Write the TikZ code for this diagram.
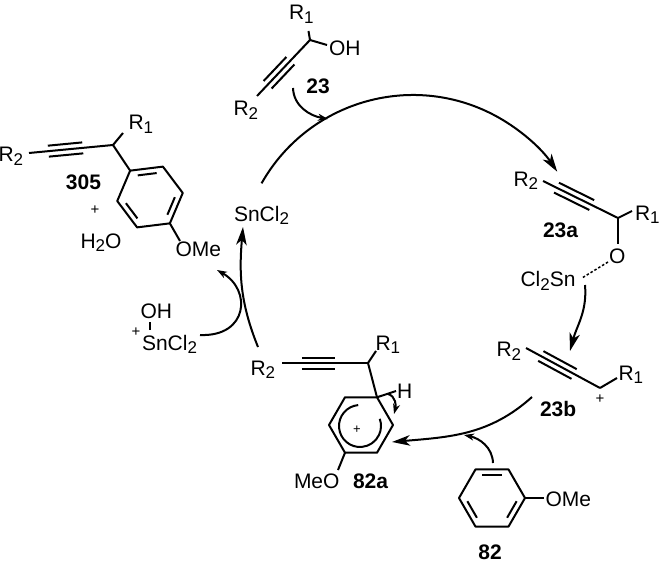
\documentclass[tikz,border=0pt]{standalone}
\usepackage{fontspec}
\setmainfont{Liberation Sans}
\usetikzlibrary{arrows.meta,calc}
\newcommand\chsub[1]{\raisebox{-3.5pt}{\fontsize{17}{18}\selectfont #1}}
\newcommand\mytriple[4]{%
  \draw[bond] (#1) -- (#2);
  \draw[bond] ($(#1)!#3!(#2)!5.5pt!90:(#2)$) -- ($(#1)!#4!(#2)!5.5pt!-90:(#1)$);
  \draw[bond] ($(#1)!#3!(#2)!5.5pt!-90:(#2)$) -- ($(#1)!#4!(#2)!5.5pt!90:(#1)$);
}
\newcommand\hexring[4]{%
  \foreach \k in {0,...,5}{%
    \coordinate (#1\k) at ($(#2)+({#3+60*\k}:#4)$);
    \coordinate (#1i\k) at ($(#2)+({#3+60*\k}:{#4-6.5})$);
  }
  \draw[bond] (#10)--(#11)--(#12)--(#13)--(#14)--(#15)--cycle;
}
\newcommand\ringdb[3]{\draw[bond] ($(#1i#2)!0.14!(#1i#3)$) -- ($(#1i#2)!0.86!(#1i#3)$);}
\begin{document}
\begin{tikzpicture}[x=1pt,y=1pt,
  bond/.style={line width=2pt, line join=round},
  txt/.style={inner sep=0pt, outer sep=0pt, font=\fontsize{21}{24}\selectfont},
  lab/.style={inner sep=0pt, outer sep=0pt, font=\fontsize{21}{24}\selectfont\bfseries},
  plus/.style={inner sep=0pt, outer sep=0pt, font=\fontsize{15}{16}\selectfont},
  chbig/.tip={Stealth[length=18pt,width=10.5pt,inset=5pt]},
  chsmall/.tip={Stealth[length=10pt,width=7pt,inset=3pt]}]
\useasboundingbox (0,0) rectangle (661,-564);
\fill[white] (0,0) rectangle (661,-564);

% ---------- 305 ----------
\coordinate (c305) at (150,-197);
\hexring{ra}{c305}{7}{33}
\ringdb{ra}{1}{2}
\ringdb{ra}{0}{5}
\ringdb{ra}{3}{4}
\coordinate (ch305) at (113,-145);
\coordinate (r2ab) at (29,-153);
\coordinate (r1ab) at (123,-133);
\coordinate (ome1b) at (180,-241);
\mytriple{r2ab}{ch305}{0.23}{0.64}
\draw[bond] (ch305) -- (r1ab);
\draw[bond] (ch305) -- (ra2);
\draw[bond] (ra5) -- (ome1b);
\node[txt,anchor=base west] (r2a) at (-1.5,-162) {R\chsub{2}};
\node[txt,anchor=base west] (r1a) at (128.5,-130) {R\chsub{1}};
\node[lab] (l305) at (83.5,-182.5) {305};
\node[plus] (pl1) at (95,-210) {+};
\node[txt,anchor=base west] (h2o) at (80.5,-248) {H\chsub{2}O};
\node[txt,anchor=base west] (ome1) at (175.5,-256) {OMe};

% ---------- 23 ----------
\coordinate (ch23) at (310,-40);
\coordinate (r1bb) at (308.5,-31);
\coordinate (ohbb) at (327,-45);
\coordinate (r2bb) at (257,-96);
\mytriple{r2bb}{ch23}{0.2}{0.63}
\draw[bond] (ch23) -- (r1bb);
\draw[bond] (ch23) -- (ohbb);
\node[txt,anchor=base west] (r1b) at (289,-20) {R\chsub{1}};
\node[txt,anchor=base west] (oh23) at (329,-56) {OH};
\node[txt,anchor=base west] (r2b) at (233.5,-116) {R\chsub{2}};
\node[lab] (l23) at (318,-86) {23};

% main arc
\coordinate (arcS) at ($(413,-269)+(150.5:174)$);
\draw[bond,-{chbig}] (arcS) arc[start angle=150.5, end angle=34, radius=174];
\coordinate (a23s) at (293,-88);
\coordinate (a23e) at (328,-119);
\draw[bond,-{chsmall}] (a23s) to[out=-88,in=170] (a23e);

% ---------- 23a ----------
\coordinate (ch23a) at (618,-218);
\coordinate (r2cb) at (543,-181);
\coordinate (r1cb) at (632,-211);
\coordinate (ocb) at (618,-244);
\mytriple{r2cb}{ch23a}{0.18}{0.65}
\draw[bond] (ch23a) -- (r1cb);
\draw[bond] (ch23a) -- (ocb);
\node[txt,anchor=base west] (r2c) at (513.5,-186.5) {R\chsub{2}};
\node[txt,anchor=base west] (r1c) at (635,-220) {R\chsub{1}};
\node[txt,anchor=base west] (oc) at (609,-263) {O};
\node[lab,anchor=base west] (l23a) at (543,-237) {23a};
\coordinate (odt1) at (608,-262);
\coordinate (odt2) at (582,-278);
\draw[bond,line width=1.5pt,dash pattern=on 2.5pt off 2pt] (odt1) -- (odt2);
\node[txt,anchor=base west] (snc) at (520.5,-286.5) {Cl\chsub{2}Sn};
\coordinate (a2s) at (585,-285);
\coordinate (a2e) at (570,-351);
\draw[bond,-{chbig}] (a2s) to[out=-85,in=75] (a2e);

% ---------- 23b ----------
\coordinate (ch23b) at (600,-388);
\coordinate (r2db) at (526,-348);
\coordinate (r1db) at (617,-378);
\mytriple{r2db}{ch23b}{0.2}{0.65}
\draw[bond] (ch23b) -- (r1db);
\node[txt,anchor=base west] (r2d) at (496.5,-356.5) {R\chsub{2}};
\node[txt,anchor=base west] (r1d) at (618.5,-380) {R\chsub{1}};
\node[plus] (pl2) at (600,-399) {+};
\node[lab,anchor=base west] (l23b) at (540,-416.5) {23b};
\coordinate (a3s) at (532,-397);
\coordinate (a3e) at (392,-442);
\draw[bond,-{chbig}] (a3s) to[out=-138,in=5] (a3e);

% ---------- 82 ----------
\coordinate (c82) at (492,-498);
\hexring{rb}{c82}{0}{33}
\ringdb{rb}{1}{2}
\ringdb{rb}{0}{5}
\ringdb{rb}{3}{4}
\coordinate (ome2b) at (544,-498);
\draw[bond] (rb0) -- (ome2b);
\node[txt,anchor=base west] (ome2) at (545.5,-506.5) {OMe};
\node[lab] (l82) at (490,-552.5) {82};
\coordinate (a4s) at (493,-463);
\coordinate (a4e) at (464,-435);
\draw[bond,-{chsmall}] (a4s) to[out=92,in=-12] (a4e);

% ---------- 82a ----------
\coordinate (c82a) at (361,-425);
\hexring{rc}{c82a}{0}{32}
\coordinate (ch82a) at (368,-363);
\coordinate (r2eb) at (282,-363);
\coordinate (r1eb) at (376,-351);
\coordinate (hb) at (396,-391);
\coordinate (meob) at (338,-470);
\mytriple{r2eb}{ch82a}{0.23}{0.62}
\draw[bond] (ch82a) -- (r1eb);
\draw[bond] (ch82a) -- (rc1);
\draw[bond] (rc1) -- (hb);
\draw[bond] (rc4) -- (meob);
\coordinate (arcc) at (360,-426);
\draw[bond] ($(arcc)+(95:21)$) arc[start angle=95, end angle=380, radius=21];
\node[plus,font=\fontsize{13}{14}\selectfont] (pl3) at (357,-430) {+};
\node[txt,anchor=base west] (r2e) at (250.5,-375) {R\chsub{2}};
\node[txt,anchor=base west] (r1e) at (375.5,-350) {R\chsub{1}};
\node[txt,anchor=base west] (he) at (397,-398) {H};
\node[txt,anchor=base west] (meo) at (294,-488) {MeO};
\node[lab,anchor=base west] (l82a) at (353,-488) {82a};
\coordinate (a5s) at (388,-394);
\coordinate (a5e) at (394,-414);
\draw[bond,-{chsmall}] (a5s) to[out=-15,in=75] (a5e);

% ---------- SnCl2 and HOSnCl2 ----------
\node[txt,anchor=base west] (sn1) at (234,-221.5) {SnCl\chsub{2}};
\coordinate (a6s) at (258,-347);
\coordinate (a6e) at (243,-227);
\draw[bond,-{chbig}] (a6s) to[out=112,in=-95] (a6e);
\node[txt,anchor=base west] (oh2) at (140.5,-318) {OH};
\coordinate (sb1) at (150,-322);
\coordinate (sb2) at (150,-330);
\draw[bond] (sb1) -- (sb2);
\node[plus] (pl4) at (136,-332) {+};
\node[txt,anchor=base west] (sn2) at (142,-350) {SnCl\chsub{2}};
\coordinate (a7s) at (200,-335);
\coordinate (a7e) at (217,-270);
\draw[bond,-{chsmall}] (a7s) .. controls (248,-337) and (252,-290) .. (a7e);
\end{tikzpicture}
\end{document}
